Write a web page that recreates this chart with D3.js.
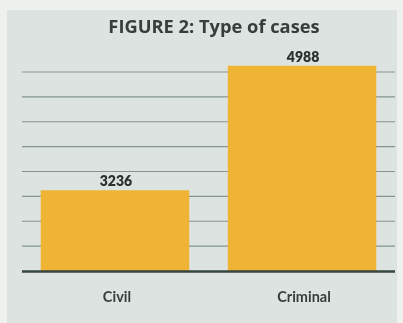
<!DOCTYPE html>
<html>
<head>
<meta charset="utf-8">
<script src="https://cdn.jsdelivr.net/npm/d3@7/dist/d3.min.js"></script>
<style>
  html, body { margin: 0; padding: 0; background: #eef0ee; }
  svg { display: block; }
</style>
</head>
<body>
<svg id="chart" width="403" height="323"></svg>
<script>
// Case counts by type
const categories = ["Civil", "Criminal"];
const caseCounts = [3236, 4988];
const title = "FIGURE 2: Type of cases";

// Value axis runs from 2100 with a gridline every 350 cases
const yMin = 2100;
const yMax = 4900;
const gridStep = 350;

const W = 403, H = 323;
const svg = d3.select("#chart");

const defs = svg.append("defs");
const soft = defs.append("filter").attr("id", "soft");
soft.append("feGaussianBlur").attr("stdDeviation", 0.45);

// Page and panel background
svg.append("rect").attr("x", 0).attr("y", 0).attr("width", W).attr("height", H)
  .attr("fill", "#eff1ef");
svg.append("rect").attr("x", 7).attr("y", 10).attr("width", 390).attr("height", H - 10)
  .attr("fill", "#dce3e0");

const g = svg.append("g").attr("filter", "url(#soft)");

const x = d3.scaleBand()
  .domain(categories)
  .range([22, 395])
  .paddingInner(0.206)
  .paddingOuter(0.1);

const y = d3.scaleLinear()
  .domain([yMin, yMax])
  .range([271, 72]);

const gridValues = d3.range(yMin + gridStep, yMax + 1, gridStep);

// Gridlines
g.append("g")
  .selectAll("line")
  .data(gridValues)
  .join("line")
  .attr("x1", 22).attr("x2", 395)
  .attr("y1", d => y(d)).attr("y2", d => y(d))
  .attr("stroke", "#84958f")
  .attr("stroke-width", 1.2);

// Bars
const data = categories.map((c, i) => ({ cat: c, value: caseCounts[i] }));

g.append("g")
  .selectAll("rect")
  .data(data)
  .join("rect")
  .attr("x", d => x(d.cat))
  .attr("width", x.bandwidth())
  .attr("y", d => y(d.value))
  .attr("height", d => y(yMin) - y(d.value))
  .attr("fill", "#f0b436");

// Baseline
g.append("line")
  .attr("x1", 22).attr("x2", 395)
  .attr("y1", y(yMin) + 0.5).attr("y2", y(yMin) + 0.5)
  .attr("stroke", "#34463f")
  .attr("stroke-width", 2.6);

// Value labels
g.append("g")
  .selectAll("text")
  .data(data)
  .join("text")
  .attr("x", d => x(d.cat) + x.bandwidth() / 2 + 1)
  .attr("y", d => y(d.value) - 4)
  .attr("text-anchor", "middle")
  .attr("font-family", "Lato, 'Open Sans', sans-serif")
  .attr("font-weight", 800)
  .attr("font-size", 14)
  .attr("fill", "#2b302f")
  .text(d => d.value);

// Category labels
g.append("g")
  .selectAll("text")
  .data(categories)
  .join("text")
  .attr("x", d => x(d) + x.bandwidth() / 2 + 2)
  .attr("y", 302)
  .attr("text-anchor", "middle")
  .attr("font-family", "Lato, 'Open Sans', sans-serif")
  .attr("font-weight", 700)
  .attr("font-size", 14.5)
  .attr("fill", "#353e3c")
  .text(d => d);

// Title
g.append("text")
  .attr("x", 214)
  .attr("y", 33)
  .attr("text-anchor", "middle")
  .attr("font-family", "'Open Sans', Lato, sans-serif")
  .attr("font-weight", 700)
  .attr("font-size", 18.3)
  .attr("fill", "#373d3c")
  .text(title);
</script>
</body>
</html>
